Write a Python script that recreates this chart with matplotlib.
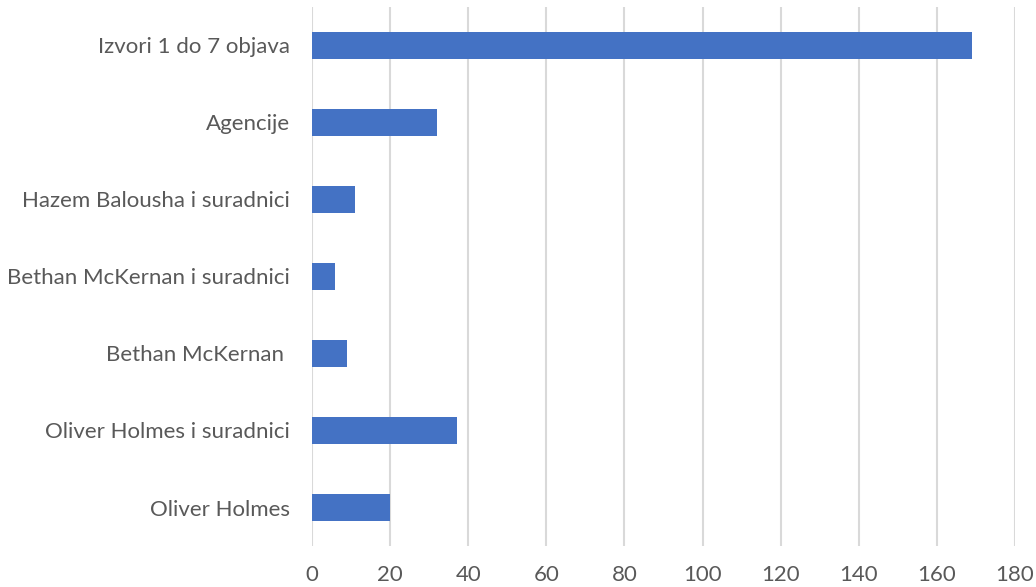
import matplotlib.pyplot as plt
import numpy as np

categories = ['Izvori 1 do 7 objava', 'Agencije', 'Hazem Balousha i suradnici',
              'Bethan McKernan i suradnici', 'Bethan McKernan ', 'Oliver Holmes i suradnici',
              'Oliver Holmes']
values = [169, 32, 11, 6, 9, 37, 20]
xticks = [0, 20, 40, 60, 80, 100, 120, 140, 160, 180]

plt.rcParams['font.family'] = ['Lato', 'DejaVu Sans']

fig = plt.figure(figsize=(10.36, 5.87), dpi=100)
ax = fig.add_axes([312 / 1036, 1 - 546 / 587, (1015 - 312) / 1036, (546 - 7) / 587])

y = np.arange(len(categories))[::-1]
ax.barh(y, values, height=0.35, color='#4472c4', zorder=3)

ax.set_xlim(0, 180)
ax.set_ylim(-0.5, len(categories) - 0.5)
ax.set_xticks(xticks)
ax.set_xticklabels([str(t) for t in xticks])
ax.set_yticks(y)
ax.set_yticklabels(categories)
ax.grid(axis='x', color='#d9d9d9', linewidth=1.5, zorder=0)
for s in ax.spines.values():
    s.set_visible(False)
ax.tick_params(axis='both', length=0, labelcolor='#595959', labelsize=16)
ax.tick_params(axis='x', pad=14)
ax.tick_params(axis='y', pad=16)

fig.savefig('out.png', dpi=100)
